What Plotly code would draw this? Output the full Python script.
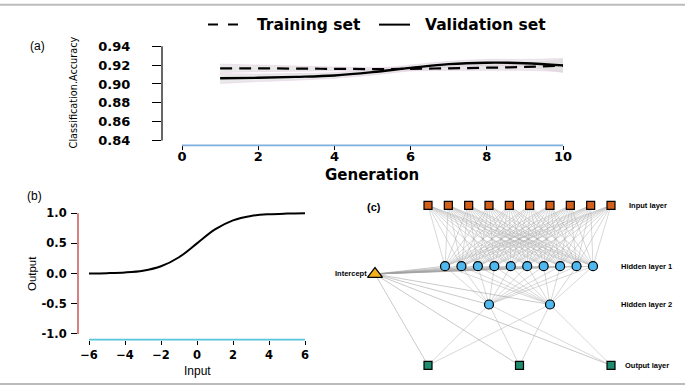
import plotly.graph_objects as go

W, H = 685, 389

# ---------------- data: panel (a) ----------------
generation = [1, 2, 3, 4, 5, 6, 7, 8, 9, 10]
train_acc = [0.9165, 0.9165, 0.9163, 0.9160, 0.9158, 0.9160, 0.9166, 0.9172, 0.9180, 0.9195]
train_lo = [0.9120, 0.9130, 0.9135, 0.9140, 0.9140, 0.9140, 0.9145, 0.9145, 0.9145, 0.9130]
train_hi = [0.9210, 0.9200, 0.9190, 0.9180, 0.9175, 0.9180, 0.9190, 0.9200, 0.9215, 0.9260]
val_acc = [0.9060, 0.9065, 0.9075, 0.9090, 0.9125, 0.9170, 0.9210, 0.9225, 0.9220, 0.9197]
val_lo = [0.9005, 0.9025, 0.9040, 0.9060, 0.9095, 0.9140, 0.9180, 0.9190, 0.9185, 0.9120]
val_hi = [0.9110, 0.9105, 0.9110, 0.9120, 0.9155, 0.9200, 0.9240, 0.9260, 0.9260, 0.9270]
acc_ticks = [0.84, 0.86, 0.88, 0.90, 0.92, 0.94]
acc_tick_labels = ["0.84", "0.86", "0.88", "0.90", "0.92", "0.94"]
gen_ticks = [0, 2, 4, 6, 8, 10]

# ---------------- data: panel (b) ----------------
act_input = [-6, -5, -4, -3, -2, -1, 0, 1, 2, 3, 4, 5, 6]
act_output = [0.0025, 0.007, 0.018, 0.047, 0.12, 0.27, 0.5, 0.73, 0.88, 0.953, 0.982, 0.993, 0.9975]
act_xticks = [-6, -4, -2, 0, 2, 4, 6]
act_yticks = [-1.0, -0.5, 0.0, 0.5, 1.0]
act_ytick_labels = ["-1.0", "-0.5", "0.0", "0.5", "1.0"]

# ---------------- data: panel (c) ----------------
layer_names = ["Input layer", "Hidden layer 1", "Hidden layer 2", "Output layer"]
layer_sizes = [10, 10, 2, 3]

# ---------------- helpers / layout geometry ----------------
def px(x):
    return x / W

def py(y):
    return 1 - y / H

TICKFONT = dict(family="DejaVu Sans", size=13, color="black", weight="bold")

fig = go.Figure()

# ---- panel (a): bands ----
band_fill = "rgba(215,215,215,0.55)"
band_edge = "rgba(232,200,228,0.6)"
for lo, hi in [(train_lo, train_hi), (val_lo, val_hi)]:
    fig.add_trace(go.Scatter(x=generation, y=lo, mode="lines", line=dict(color=band_edge, width=0.8, shape="spline"),
                             showlegend=False, hoverinfo="skip", xaxis="x", yaxis="y"))
    fig.add_trace(go.Scatter(x=generation, y=hi, mode="lines", line=dict(color=band_edge, width=0.8, shape="spline"),
                             fill="tonexty", fillcolor=band_fill, showlegend=False, hoverinfo="skip",
                             xaxis="x", yaxis="y"))
fig.add_trace(go.Scatter(x=generation, y=train_acc, mode="lines", name="Training set",
                         line=dict(color="black", width=2.2, dash="12px,7px", shape="spline"),
                         showlegend=False, xaxis="x", yaxis="y"))
fig.add_trace(go.Scatter(x=generation, y=val_acc, mode="lines", name="Validation set",
                         line=dict(color="black", width=2.4, shape="spline"),
                         showlegend=False, xaxis="x", yaxis="y"))

# ---- panel (b): activation ----
fig.add_trace(go.Scatter(x=act_input, y=act_output, mode="lines",
                         line=dict(color="black", width=2, shape="spline", smoothing=1.0),
                         showlegend=False, xaxis="x2", yaxis="y2"))

# ---- panel (c): network ----
layer_y = [205, 267, 306, 368]
layer_span = [(428, 611), (445, 593), (489, 550), (428, 611)]
intercept_pos = (375, 275)

def layer_positions(i):
    n = layer_sizes[i]
    a, b = layer_span[i]
    if n == 1:
        return [(a + b) / 2]
    return [a + (b - a) * k / (n - 1) for k in range(n)]

nodes = [layer_positions(i) for i in range(len(layer_sizes))]

ex, ey = [], []
for i in range(len(layer_sizes) - 1):
    for xa in nodes[i]:
        for xb in nodes[i + 1]:
            ex += [xa, xb, None]
            ey += [layer_y[i], layer_y[i + 1], None]
fig.add_trace(go.Scatter(x=ex, y=ey, mode="lines", line=dict(color="rgba(175,175,175,0.7)", width=0.7),
                         showlegend=False, hoverinfo="skip", xaxis="x3", yaxis="y3"))
ix, iy = [], []
for i in range(1, len(layer_sizes)):
    for xb in nodes[i]:
        ix += [intercept_pos[0], xb, None]
        iy += [intercept_pos[1], layer_y[i], None]
fig.add_trace(go.Scatter(x=ix, y=iy, mode="lines", line=dict(color="rgba(160,160,160,0.8)", width=0.7),
                         showlegend=False, hoverinfo="skip", xaxis="x3", yaxis="y3"))

node_style = [
    dict(symbol="square", size=8, color="#d2601a"),
    dict(symbol="circle", size=9, color="#4fb8ef"),
    dict(symbol="circle", size=9, color="#4fb8ef"),
    dict(symbol="square", size=8, color="#1e8c6e"),
]
for i in range(len(layer_sizes)):
    st = node_style[i]
    fig.add_trace(go.Scatter(x=nodes[i], y=[layer_y[i]] * layer_sizes[i], mode="markers",
                             marker=dict(symbol=st["symbol"], size=st["size"], color=st["color"],
                                         line=dict(color="black", width=1.2)),
                             showlegend=False, hoverinfo="skip", xaxis="x3", yaxis="y3"))
fig.add_trace(go.Scatter(x=[intercept_pos[0]], y=[intercept_pos[1]], mode="markers",
                         marker=dict(symbol="triangle-up", size=13, color="#f2b01e",
                                     line=dict(color="black", width=1.2)),
                         showlegend=False, hoverinfo="skip", xaxis="x3", yaxis="y3"))

annotations = []
label_x = [627, 619, 619, 623]
for i, name in enumerate(layer_names):
    annotations.append(dict(x=label_x[i], y=layer_y[i], xref="x3", yref="y3", text=name, showarrow=False,
                            xanchor="left", yanchor="middle",
                            font=dict(family="Liberation Sans", size=7.5, color="black", weight="bold")))
annotations.append(dict(x=intercept_pos[0] - 6, y=intercept_pos[1] - 1, xref="x3", yref="y3", text="Intercept",
                        showarrow=False, xanchor="right", yanchor="middle",
                        font=dict(family="Liberation Sans", size=7.5, color="black", weight="bold")))

# ---- axes ----
a_x0, a_x1 = 182, 563   # pixel of gen 0 / gen 10
a_y94, a_y84 = 43, 139  # pixel of 0.94 / 0.84
a_left, a_right, a_top, a_bot = 162, 575, 40, 144
gx = lambda p: (p - a_x0) / (a_x1 - a_x0) * 10
gy = lambda p: 0.94 - (p - a_y94) / (a_y84 - a_y94) * 0.10

b_x0, b_x1 = 89, 305
b_y1, b_ym1 = 213, 336
b_left, b_right, b_top, b_bot = 78, 315, 205, 341.7
bx = lambda p: -6 + (p - b_x0) / (b_x1 - b_x0) * 12
by = lambda p: 1 - (p - b_y1) / (b_ym1 - b_y1) * 2

common = dict(showgrid=False, zeroline=False, showline=False, ticks="outside", tickcolor="black", tickwidth=1)

fig.update_layout(
    width=W, height=H, margin=dict(l=0, r=0, t=0, b=0),
    paper_bgcolor="white", plot_bgcolor="rgba(0,0,0,0)",
    xaxis=dict(domain=[px(a_left), px(a_right)], range=[gx(a_left), gx(a_right)], anchor="y",
               tickvals=gen_ticks, ticklen=4, tickfont=TICKFONT, ticklabelstandoff=-5, **common),
    yaxis=dict(domain=[py(a_bot), py(a_top)], range=[gy(a_bot), gy(a_top)], anchor="x",
               tickvals=acc_ticks, ticktext=acc_tick_labels, ticklen=9, tickfont=TICKFONT,
               ticklabelstandoff=19, **common),
    xaxis2=dict(domain=[px(b_left), px(b_right)], range=[bx(b_left), bx(b_right)], anchor="y2",
                tickvals=act_xticks, ticklen=4, ticklabelstandoff=1,
                tickfont=dict(family="DejaVu Sans", size=11.5, color="black", weight="bold"), **common),
    yaxis2=dict(domain=[py(b_bot), py(b_top)], range=[by(b_bot), by(b_top)], anchor="x2",
                tickvals=act_yticks, ticktext=act_ytick_labels, ticklen=6, ticklabelstandoff=2,
                tickfont=dict(family="DejaVu Sans", size=11.5, color="black", weight="bold"), **common),
    xaxis3=dict(domain=[px(320), 1], range=[320, 685], visible=False, anchor="y3"),
    yaxis3=dict(domain=[0, py(190)], range=[389, 190], visible=False, anchor="x3"),
)

shapes = [
    # R-style axis lines
    dict(type="line", xref="x domain", yref="y", x0=0, x1=0, y0=0.84, y1=0.94, line=dict(color="black", width=1.2)),
    dict(type="line", xref="x", yref="y domain", x0=0, x1=10, y0=0, y1=0, line=dict(color="#7eb0e0", width=1.8)),
    dict(type="line", xref="x2 domain", yref="y2", x0=0, x1=0, y0=-1, y1=1, line=dict(color="#d06060", width=1.6)),
    dict(type="line", xref="x2", yref="y2 domain", x0=-6, x1=6, y0=0, y1=0, line=dict(color="#55c6dc", width=1.8)),
    # legend keys (a)
    dict(type="line", xref="paper", yref="paper", x0=px(208), x1=px(238), y0=py(21), y1=py(21),
         line=dict(color="black", width=2, dash="10px,10px")),
    dict(type="line", xref="paper", yref="paper", x0=px(379), x1=px(410), y0=py(21), y1=py(21),
         line=dict(color="black", width=2)),
    # frame lines
    dict(type="line", xref="paper", yref="paper", x0=0, x1=1, y0=py(0.8), y1=py(0.8),
         line=dict(color="#bcbcbc", width=2)),
    dict(type="line", xref="paper", yref="paper", x0=0, x1=1, y0=py(387), y1=py(387),
         line=dict(color="#bcbcbc", width=2)),
]
fig.update_layout(shapes=shapes)

LEGFONT = dict(family="DejaVu Sans", size=15.5, color="black", weight="bold")
annotations += [
    dict(x=px(255), y=py(21), xref="paper", yref="paper", text="Training set", showarrow=False,
         xanchor="left", yanchor="middle", font=LEGFONT),
    dict(x=px(423), y=py(21), xref="paper", yref="paper", text="Validation set", showarrow=False,
         xanchor="left", yanchor="middle", font=LEGFONT),
    dict(x=px(372), y=py(174), xref="paper", yref="paper", text="Generation", showarrow=False,
         xanchor="center", yanchor="middle", font=dict(family="DejaVu Sans", size=15, color="black", weight="bold")),
    dict(x=px(73), y=py(90), xref="paper", yref="paper", text="Classification.Accuracy", showarrow=False,
         textangle=-90, xanchor="center", yanchor="middle",
         font=dict(family="Liberation Sans Narrow, Arial Narrow, DejaVu Sans Condensed", size=10.8, color="black")),
    dict(x=px(37), y=py(43), xref="paper", yref="paper", text="(a)", showarrow=False,
         xanchor="center", yanchor="middle", font=dict(family="Liberation Sans", size=12, color="black")),
    dict(x=px(34), y=py(196), xref="paper", yref="paper", text="(b)", showarrow=False,
         xanchor="center", yanchor="middle", font=dict(family="Liberation Sans", size=12, color="black")),
    dict(x=px(374), y=py(207), xref="paper", yref="paper", text="(c)", showarrow=False,
         xanchor="center", yanchor="middle", font=dict(family="Liberation Sans", size=11, color="black", weight="bold")),
    dict(x=px(197), y=py(374), xref="paper", yref="paper", text="Input", showarrow=False,
         xanchor="center", yanchor="middle", font=dict(family="Liberation Sans", size=12, color="black")),
    dict(x=px(32), y=py(274), xref="paper", yref="paper", text="Output", showarrow=False, textangle=-90,
         xanchor="center", yanchor="middle", font=dict(family="Liberation Sans", size=11.5, color="black")),
]
fig.update_layout(annotations=annotations)

fig.write_html("out.html", config={"displayModeBar": False},
               post_script="document.body.style.margin='0';document.body.style.padding='0';")
